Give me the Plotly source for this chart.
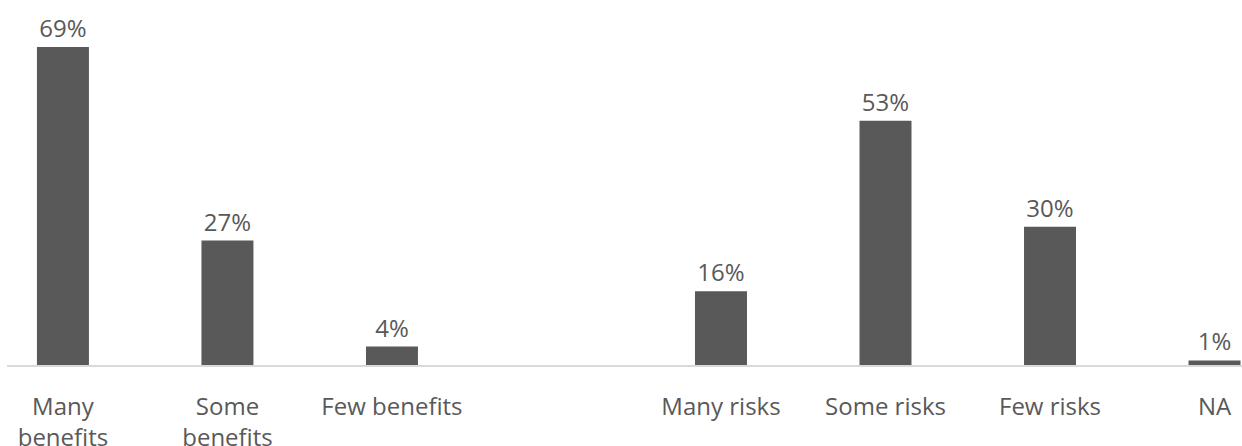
import plotly.graph_objects as go

categories = ["Many<br>benefits", "Some<br>benefits", "Few benefits", " ",
              "Many risks", "Some risks", "Few risks", "NA"]
values = [69, 27, 4, None, 16, 53, 30, 1]
labels = [f"{v}%" if v is not None else "" for v in values]

GRAY = "#595959"
FONT = "Open Sans"

fig = go.Figure(go.Bar(
    x=categories, y=values, text=labels, textposition="outside",
    marker=dict(color=GRAY, line=dict(width=0)),
    textfont=dict(family=FONT, size=24, color=GRAY),
    cliponaxis=False, width=0.316,
))

fig.update_layout(
    width=1242, height=446,
    margin=dict(l=7, r=0, t=0, b=81),
    plot_bgcolor="white", paper_bgcolor="white",
    showlegend=False,
    xaxis=dict(
        type="category", range=[-0.340, 7.167],
        showline=True, linecolor="#d9d9d9", linewidth=1.5,
        ticks="outside", ticklen=19, tickcolor="rgba(0,0,0,0)",
        tickfont=dict(family=FONT, size=24, color=GRAY),
        showgrid=False, fixedrange=True, automargin=False,
    ),
    yaxis=dict(range=[0, 79.2], visible=False, showgrid=False, zeroline=False),
)
fig.update_traces(textangle=0, constraintext="none")

fig.write_html("out.html",
               config={"displayModeBar": False},
               post_script="document.body.style.margin='0';document.body.style.overflow='hidden';")
